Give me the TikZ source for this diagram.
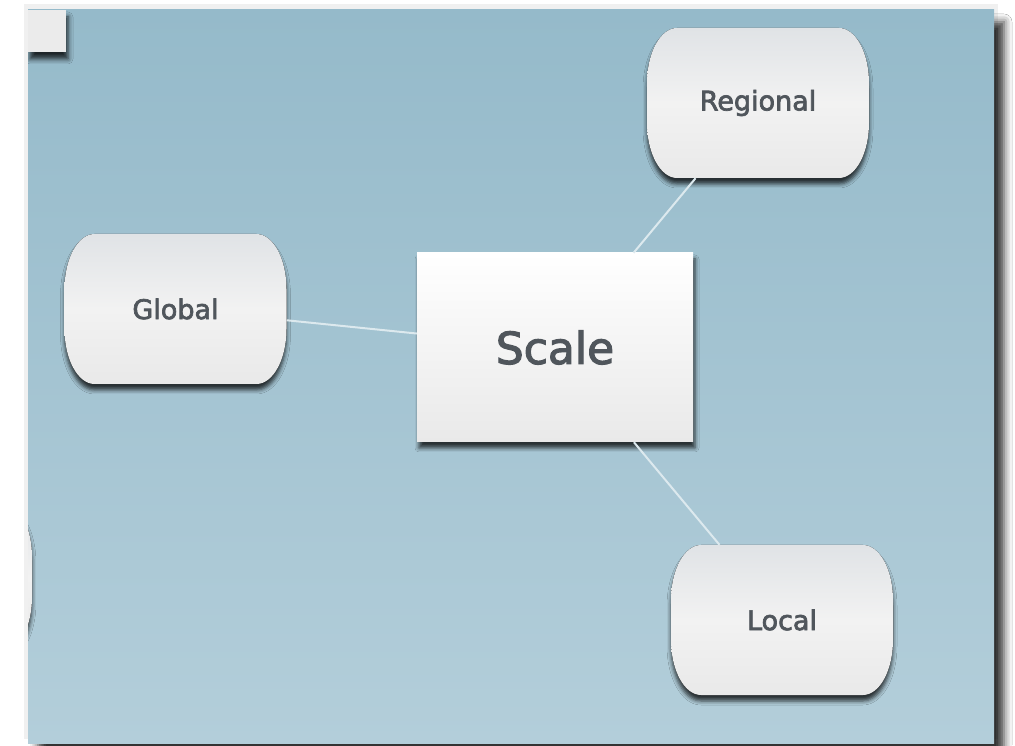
\documentclass[tikz,border=0pt]{standalone}
\usepackage{fontspec}
\newfontfamily\nodefont{DejaVu Sans}[FakeBold=2.6]
\usepackage{xcolor}
\usepackage{tikz}
\usetikzlibrary{shadows.blur}
\definecolor{panelTop}{HTML}{95BACA}
\definecolor{panelBot}{HTML}{B3CEDA}
\definecolor{textgray}{HTML}{50565C}
\definecolor{linkblue}{HTML}{DCE9EE}
\definecolor{pillTop}{HTML}{E0E3E6}
\definecolor{pillMid}{HTML}{F2F2F2}
\definecolor{pillBot}{HTML}{E9E9E9}
\tikzstyle{pill} = [rectangle, minimum width=222pt, minimum height=150pt, inner sep=0pt, text=textgray, font=\nodefont\fontsize{27}{32}\selectfont]
\tikzstyle{bigbox} = [rectangle, minimum width=276pt, minimum height=189pt, inner sep=0pt, text=textgray, font=\nodefont\fontsize{44}{52}\selectfont, top color=white, bottom color=pillBot, blur shadow={shadow xshift=2pt, shadow yshift=-6pt, shadow blur radius=4pt, shadow opacity=75}]
\tikzstyle{pillfill} = [top color=pillTop, bottom color=pillBot, middle color=pillMid, blur shadow={shadow xshift=0pt, shadow yshift=-6pt, shadow blur radius=4pt, shadow opacity=75}]
\tikzstyle{link} = [draw=linkblue, line width=2pt]
% 桶形节点的外形
\newcommand{\barrel}[2]{%
  \fill[pillfill] (#1,#2) ++(-81,75) -- ++(162,0)
    arc[start angle=90, end angle=0, x radius=30pt, y radius=55pt] -- ++(0,-40)
    arc[start angle=0, end angle=-90, x radius=30pt, y radius=55pt] -- ++(-162,0)
    arc[start angle=270, end angle=180, x radius=30pt, y radius=55pt] -- ++(0,40)
    arc[start angle=180, end angle=90, x radius=30pt, y radius=55pt] -- cycle;}
\begin{document}
\begin{tikzpicture}[x=1pt, y=1pt]
  \useasboundingbox (0,0) rectangle (1015,745);
  \fill[white] (0,0) rectangle (1015,745);
  % 背景面板
  \fill[black!6] (24,6) rectangle (998,741);
  \fill[top color=panelTop, bottom color=panelBot, blur shadow={shadow xshift=10pt, shadow yshift=-12pt, shadow blur radius=8pt, shadow opacity=80}] (28,2) rectangle (994,735);
  \begin{scope}
    \clip (28,2) rectangle (994,735);
    \fill[fill=black!8, blur shadow={shadow xshift=2pt, shadow yshift=-7pt, shadow blur radius=5pt, shadow opacity=80}] (28,693) rectangle (66,735);
    \barrel{-79}{168}
  \end{scope}

  % 四个节点
  \barrel{758}{642}
  \node[pill] (regional) at (758,642) {Regional};
  \barrel{175.5}{436}
  \node[pill] (global) at (175.5,436) {Global};
  \barrel{782}{125}
  \node[pill] (local) at (782,125) {Local};
  \node[bigbox] (scale) at (555,397.5) {Scale};

  % 连线
  \draw[link] (global) -- (scale);
  \draw[link] (scale) -- (regional);
  \draw[link] (scale) -- (local);
\end{tikzpicture}
\end{document}
